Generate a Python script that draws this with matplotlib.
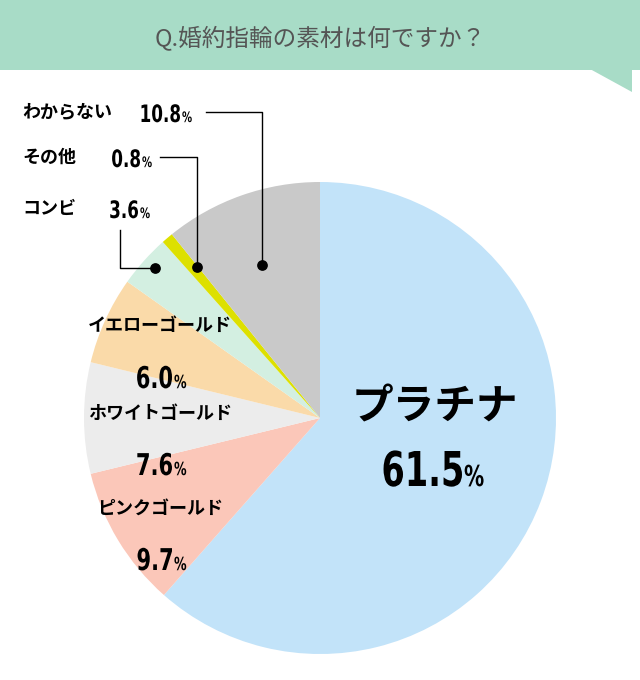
import matplotlib.pyplot as plt
from matplotlib.patches import Polygon, Rectangle, PathPatch
from matplotlib.textpath import TextPath
from matplotlib.font_manager import FontProperties
from matplotlib.transforms import Affine2D

jp = "Noto Sans CJK JP"
numfont = FontProperties(family="DejaVu Sans", weight="bold")

labels = ["プラチナ", "ピンクゴールド", "ホワイトゴールド", "イエローゴールド", "コンビ", "その他", "わからない"]
values = [61.5, 9.7, 7.6, 6.0, 3.6, 0.8, 10.8]
colors = ["#c2e3f9", "#fbc7b9", "#ececec", "#fadaa9", "#d3efe1", "#dde000", "#c9c9c9"]
title = "Q.婚約指輪の素材は何ですか？"

fig = plt.figure(figsize=(6.4, 6.8), dpi=100)
ax = fig.add_axes([0, 0, 1, 1])

ax.pie(values, colors=colors, startangle=90, counterclock=False,
       center=(320, 262), radius=236, frame=True,
       wedgeprops=dict(linewidth=0))
ax.set_xlim(0, 640)
ax.set_ylim(0, 680)
ax.set_aspect("equal")
ax.axis("off")

# header band
ax.add_patch(Rectangle((0, 610), 640, 70, color="#a8dcc7", lw=0))
ax.add_patch(Polygon([(590, 611), (632, 611), (632, 588)], color="#a8dcc7", lw=0))
ax.text(320, 642, title, fontfamily=jp, fontsize=17, color="#555555", ha="center", va="center")


def narrow(x, y, s, size, align="right"):
    # condensed digits drawn as a horizontally squeezed text path
    tp = TextPath((0, 0), s, size=size, prop=numfont)
    ext = tp.get_extents()
    w = ext.x1 * 0.7
    dx = x - w if align == "right" else x
    tr = Affine2D().scale(0.7, 1).translate(dx, y)
    ax.add_patch(PathPatch(tr.transform_path(tp), color="black", lw=0))


def pct(x, y, v, size):
    narrow(x, y, f"{v}", size, "right")
    narrow(x + 2, y, "%", size * 0.6, "left")


ax.text(435, 272, labels[0], fontfamily=jp, fontsize=30, fontweight="bold", ha="center", va="center")
pct(462, 194, values[0], 48)

for i, (ty, py) in zip([1, 2, 3], [(172, 110), (267, 205), (355, 292)]):
    ax.text(160, ty, labels[i], fontfamily=jp, fontsize=13, fontweight="bold", ha="center", va="center")
    pct(172, py, values[i], 30)

ax.text(22, 568, labels[6], fontfamily=jp, fontsize=13, fontweight="bold", ha="left", va="center")
pct(180, 558, values[6], 24)
ax.text(22, 523, labels[5], fontfamily=jp, fontsize=13, fontweight="bold", ha="left", va="center")
pct(140, 513, values[5], 24)
ax.text(22, 472, labels[4], fontfamily=jp, fontsize=13, fontweight="bold", ha="left", va="center")
pct(138, 462, values[4], 24)

ax.plot([206, 262, 262], [568, 568, 415], color="black", lw=1)
ax.plot([160, 197, 197], [523, 523, 413], color="black", lw=1)
ax.plot([120, 120, 155], [450, 412, 412], color="black", lw=1)
ax.scatter([262, 197, 155], [415, 413, 412], s=45, color="black", zorder=5)

fig.savefig("out.png", dpi=100, facecolor="white")
